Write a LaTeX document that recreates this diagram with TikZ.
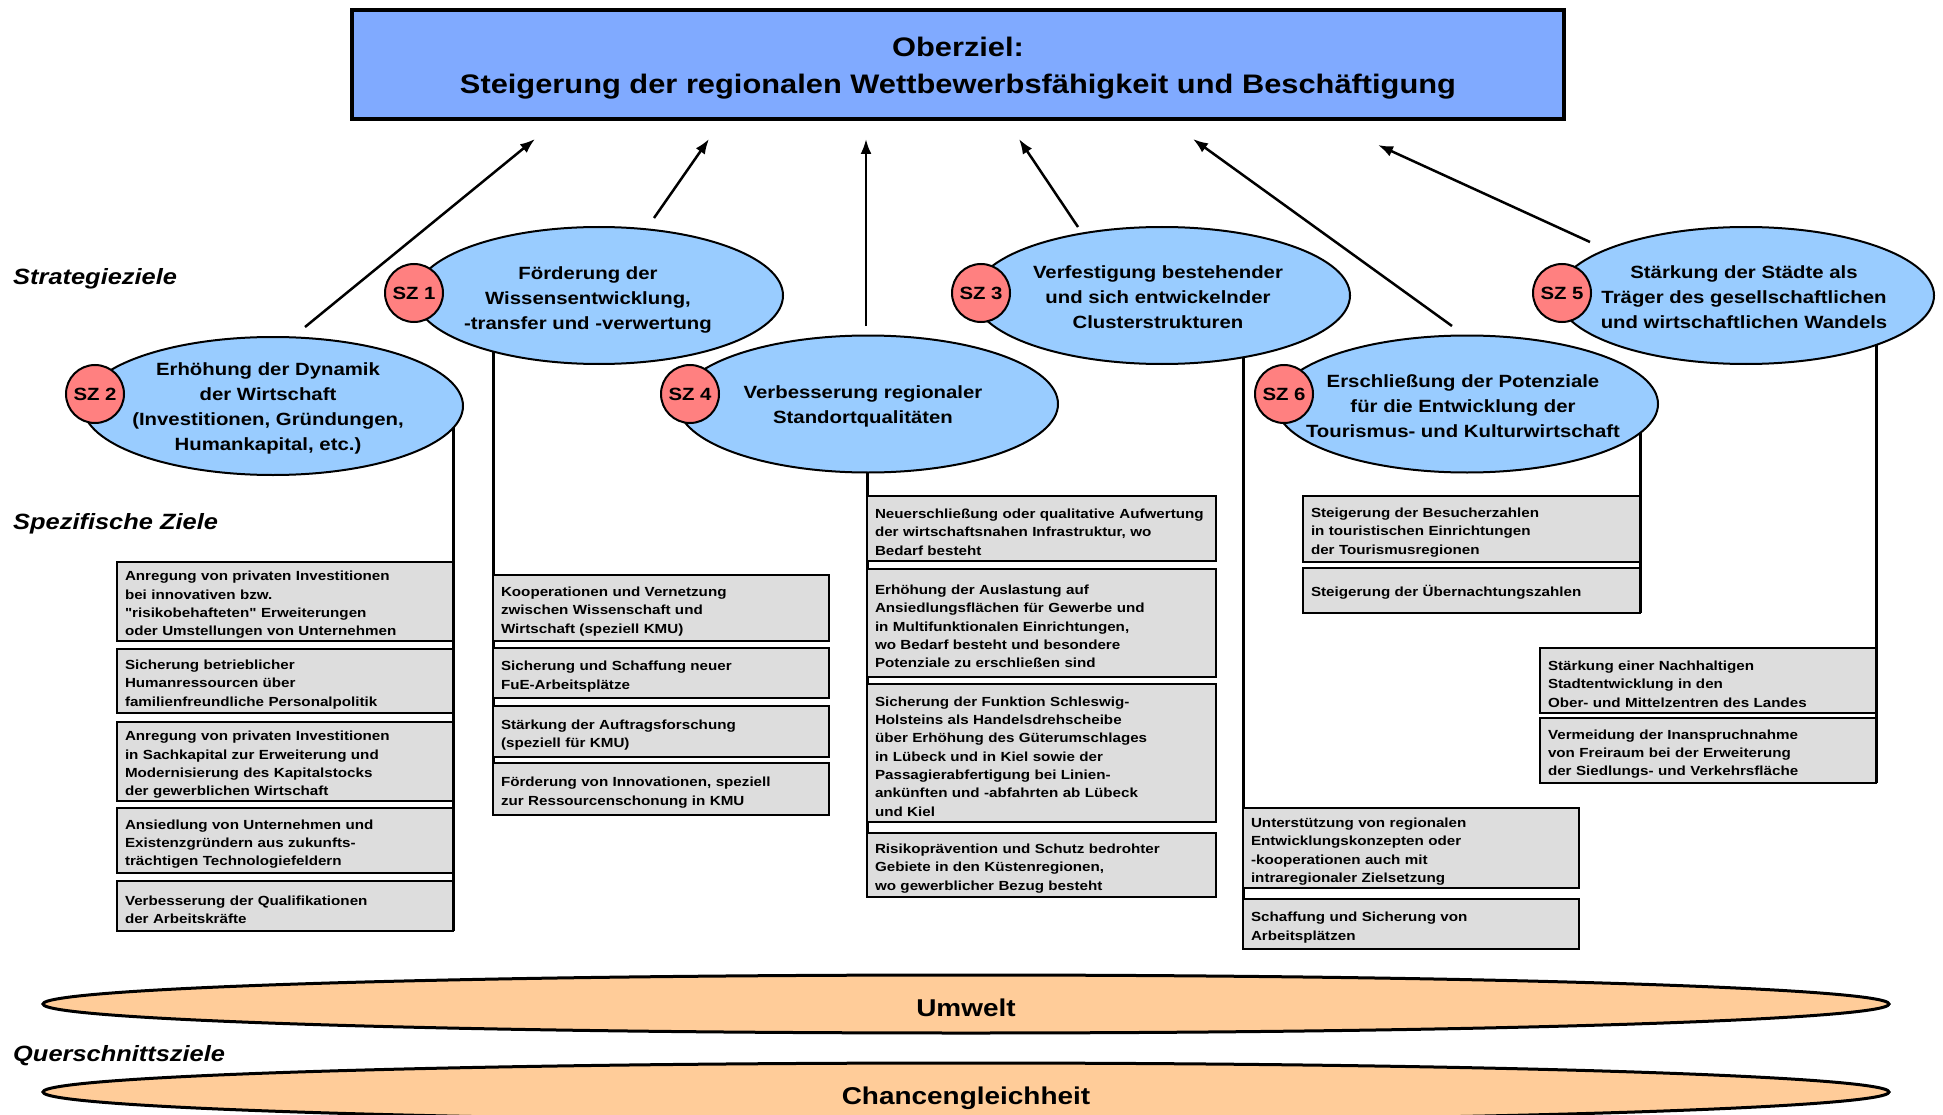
\documentclass[tikz,border=0pt]{standalone}
\usepackage{fontspec}
\setmainfont{Liberation Sans}[FakeStretch=1.15, Ligatures=TeXOff]
\usetikzlibrary{arrows.meta,backgrounds,shapes.geometric}

\definecolor{topblue}{RGB}{128,170,255}
\definecolor{goalblue}{RGB}{153,204,255}
\definecolor{szred}{RGB}{255,128,128}
\definecolor{boxgray}{RGB}{221,221,221}
\definecolor{peach}{RGB}{255,204,153}

% negative space closing each box text, so the lines sit a little lower
\newcommand\boxtail{\endgraf\vspace*{-7pt}}

\begin{document}
\begin{tikzpicture}[x=1pt,y=-1pt,
  oberziel/.style={draw, line width=3.5pt, fill=topblue, outer sep=0pt,
    minimum width=1212pt, minimum height=109pt, align=center,
    font=\bfseries\fontsize{26.8}{37}\selectfont},
  goal/.style={ellipse, draw, line width=2pt, fill=goalblue, inner sep=0pt, outer sep=0pt},
  goaltext/.style={align=center, inner sep=0pt,
    font=\bfseries\fontsize{17.7}{25}\selectfont},
  szbadge/.style={circle, draw, line width=2pt, fill=szred, minimum size=58pt,
    inner sep=0pt, font=\bfseries\fontsize{17.7}{20}\selectfont},
  zielbox/.style={draw, line width=2.2pt, fill=boxgray, anchor=north west,
    outer sep=0pt, align=left, inner xsep=8pt, inner ysep=1pt,
    execute at end node=\boxtail,
    font=\bfseries\fontsize{13.2}{18.3}\selectfont},
  colA/.style={minimum width=336pt, text width=320pt},
  colC/.style={minimum width=349pt, text width=333pt},
  colD/.style={minimum width=337pt, text width=321pt},
  link/.style={line width=3pt},
  uparrow/.style={line width=2.5pt, -{Latex[length=15pt,width=11pt]}},
  quer/.style={ellipse, draw, line width=3pt, fill=peach, inner sep=0pt,
    minimum width=1846pt, minimum height=58pt},
  quertext/.style={inner sep=0pt, font=\bfseries\fontsize{24.3}{28}\selectfont},
  sidelabel/.style={anchor=west, inner sep=0pt,
    font=\bfseries\itshape\fontsize{22.1}{26}\selectfont}
]
\useasboundingbox (0,0) rectangle (1943,1115);
\clip (0,0) rectangle (1943,1115);

% overall objective (box and its two text lines)
\node[oberziel] (top) at (958,64.5) {};
\node[inner sep=0pt, align=center, font=\bfseries\fontsize{26.8}{37}\selectfont] (toptext) at (958,68.5) {Oberziel:\\Steigerung der regionalen Wettbewerbsfähigkeit und Beschäftigung};

% row labels
\node[sidelabel] (lstrat) at (13,279) {Strategieziele};
\node[sidelabel] (lspez) at (13,524) {Spezifische Ziele};
\node[sidelabel] (lquer) at (13,1056) {Querschnittsziele};

% strategic objectives
\node[goal, minimum width=380pt, minimum height=138pt] (e2) at (273,406) {};
\node[goal, minimum width=368pt, minimum height=137pt] (e1) at (599,295.5) {};
\node[goal, minimum width=380pt, minimum height=137pt] (e4) at (868,404) {};
\node[goal, minimum width=376pt, minimum height=137pt] (e3) at (1162,295.5) {};
\node[goal, minimum width=382pt, minimum height=137pt] (e6) at (1467,404) {};
\node[goal, minimum width=376pt, minimum height=137pt] (e5) at (1746,295.5) {};

\node[goaltext] (t2) at (268,408.5) {Erhöhung der Dynamik\\der Wirtschaft\\(Investitionen, Gründungen,\\Humankapital, etc.)};
\node[goaltext] (t1) at (588,299.5) {Förderung der\\Wissensentwicklung,\\-transfer und -verwertung};
\node[goaltext] (t4) at (863,406.5) {Verbesserung regionaler\\Standortqualitäten};
\node[goaltext] (t3) at (1158,297.5) {Verfestigung bestehender\\und sich entwickelnder\\Clusterstrukturen};
\node[goaltext] (t6) at (1463,406) {Erschließung der Potenziale\\für die Entwicklung der\\Tourismus- und Kulturwirtschaft};
\node[goaltext] (t5) at (1744,297) {Stärkung der Städte als\\Träger des gesellschaftlichen\\und wirtschaftlichen Wandels};

\node[szbadge] (s2) at (95,394) {SZ 2};
\node[szbadge] (s1) at (414,293) {SZ 1};
\node[szbadge] (s4) at (690,394) {SZ 4};
\node[szbadge] (s3) at (981,293) {SZ 3};
\node[szbadge] (s6) at (1284,394) {SZ 6};
\node[szbadge] (s5) at (1562,293) {SZ 5};

% specific objectives, SZ 2
\node[zielbox, colA, minimum height=79pt] (b21) at (117,562) {Anregung von privaten Investitionen\\bei innovativen bzw.\\"risikobehafteten" Erweiterungen\\oder Umstellungen von Unternehmen};
\node[zielbox, colA, minimum height=64pt] (b22) at (117,649) {Sicherung betrieblicher\\Humanressourcen über\\familienfreundliche Personalpolitik};
\node[zielbox, colA, minimum height=79pt] (b23) at (117,722) {Anregung von privaten Investitionen\\in Sachkapital zur Erweiterung und\\Modernisierung des Kapitalstocks\\der gewerblichen Wirtschaft};
\node[zielbox, colA, minimum height=65pt] (b24) at (117,808) {Ansiedlung von Unternehmen und\\Existenzgründern aus zukunfts-\\trächtigen Technologiefeldern};
\node[zielbox, colA, minimum height=50pt] (b25) at (117,881) {Verbesserung der Qualifikationen\\der Arbeitskräfte};

% specific objectives, SZ 1
\node[zielbox, colA, minimum height=66pt] (b11) at (493,575) {Kooperationen und Vernetzung\\zwischen Wissenschaft und\\Wirtschaft (speziell KMU)};
\node[zielbox, colA, minimum height=50pt] (b12) at (493,648) {Sicherung und Schaffung neuer\\FuE-Arbeitsplätze};
\node[zielbox, colA, minimum height=51pt] (b13) at (493,706) {Stärkung der Auftragsforschung\\(speziell für KMU)};
\node[zielbox, colA, minimum height=52pt] (b14) at (493,763) {Förderung von Innovationen, speziell\\zur Ressourcenschonung in KMU};

% specific objectives, SZ 4
\node[zielbox, colC, minimum height=65pt] (b41) at (867,496) {Neuerschließung oder qualitative Aufwertung\\der wirtschaftsnahen Infrastruktur, wo\\Bedarf besteht};
\node[zielbox, colC, minimum height=108pt] (b42) at (867,569) {Erhöhung der Auslastung auf\\Ansiedlungsflächen für Gewerbe und\\in Multifunktionalen Einrichtungen,\\wo Bedarf besteht und besondere\\Potenziale zu erschließen sind};
\node[zielbox, colC, minimum height=138pt] (b43) at (867,684) {Sicherung der Funktion Schleswig-\\Holsteins als Handelsdrehscheibe\\über Erhöhung des Güterumschlages\\in Lübeck und in Kiel sowie der\\Passagierabfertigung bei Linien-\\ankünften und -abfahrten ab Lübeck\\und Kiel};
\node[zielbox, colC, minimum height=64pt] (b44) at (867,833) {Risikoprävention und Schutz bedrohter\\Gebiete in den Küstenregionen,\\wo gewerblicher Bezug besteht};

% specific objectives, SZ 3
\node[zielbox, colA, minimum height=80pt] (b31) at (1243,808) {Unterstützung von regionalen\\Entwicklungskonzepten oder\\-kooperationen auch mit\\intraregionaler Zielsetzung};
\node[zielbox, colA, minimum height=50pt] (b32) at (1243,899) {Schaffung und Sicherung von\\Arbeitsplätzen};

% specific objectives, SZ 6
\node[zielbox, colD, minimum height=66pt] (b61) at (1303,496) {Steigerung der Besucherzahlen\\in touristischen Einrichtungen\\der Tourismusregionen};
\node[zielbox, colD, minimum height=45pt] (b62) at (1303,568) {Steigerung der Übernachtungszahlen};

% specific objectives, SZ 5
\node[zielbox, colA, minimum height=65pt] (b51) at (1540,648) {Stärkung einer Nachhaltigen\\Stadtentwicklung in den\\Ober- und Mittelzentren des Landes};
\node[zielbox, colA, minimum height=65pt] (b52) at (1540,718) {Vermeidung der Inanspruchnahme\\von Freiraum bei der Erweiterung\\der Siedlungs- und Verkehrsfläche};

% links from each strategic objective down to its specific objectives
\begin{pgfonlayer}{background}
  \draw[link] (b25.south east) -- (b25.south east |- e2.center);
  \draw[link] (b14.south west) -- (b14.south west |- e1.center);
  \draw[link] (b44.south west) -- (b44.south west |- e4.center);
  \draw[link] (b32.south west) -- (b32.south west |- e3.center);
  \draw[link] (b62.south east) -- (b62.south east |- e6.center);
  \draw[link] (b52.south east) -- (b52.south east |- e5.center);
\end{pgfonlayer}

% contributions to the overall objective
\coordinate (a2s) at (305,327);  \coordinate (a2e) at (535,139);
\coordinate (a1s) at (654,218);  \coordinate (a1e) at (709,139);
\coordinate (a4s) at (866,326);  \coordinate (a4e) at (866,139);
\coordinate (a3s) at (1078,227); \coordinate (a3e) at (1019,139);
\coordinate (a6s) at (1452,326); \coordinate (a6e) at (1193,139);
\coordinate (a5s) at (1590,242); \coordinate (a5e) at (1378,145);
\draw[uparrow] (a2s) -- (a2e);
\draw[uparrow] (a1s) -- (a1e);
\draw[uparrow] (a4s) -- (a4e);
\draw[uparrow] (a3s) -- (a3e);
\draw[uparrow] (a6s) -- (a6e);
\draw[uparrow] (a5s) -- (a5e);

% cross-cutting objectives
\node[quer] (umwelt) at (966,1004) {};
\node[quer] (chancen) at (966,1092) {};
\node[quertext] (tumwelt) at (966,1008) {Umwelt};
\node[quertext] (tchancen) at (966,1098) {Chancengleichheit};
\end{tikzpicture}
\end{document}
